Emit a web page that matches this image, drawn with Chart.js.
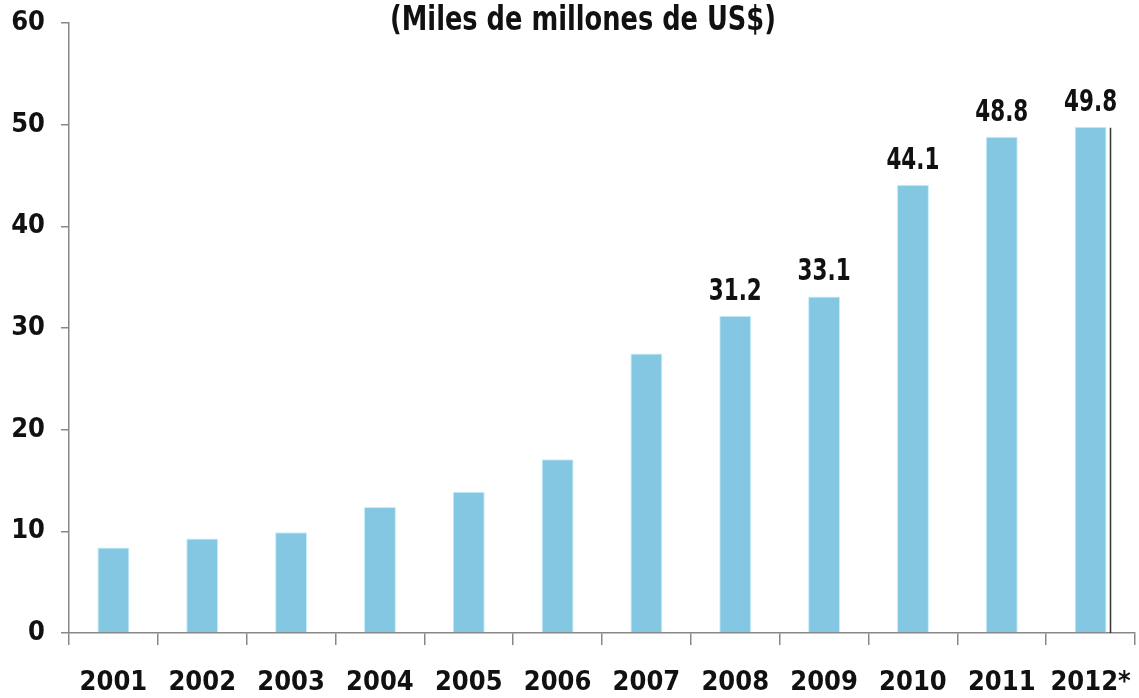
<!DOCTYPE html>
<html>
<head>
<meta charset="utf-8">
<script src="https://cdn.jsdelivr.net/npm/chart.js@4/dist/chart.umd.min.js"></script>
<style>
  body { margin: 0; background: #fff; }
  #wrap { width: 1139px; height: 698px; position: relative; }
</style>
</head>
<body>
<div id="wrap"><canvas id="bar_chart"></canvas></div>
<script>
const years = ['2001', '2002', '2003', '2004', '2005', '2006', '2007', '2008', '2009', '2010', '2011', '2012*'];
const values = [8.4, 9.3, 9.9, 12.4, 13.9, 17.1, 27.5, 31.2, 33.1, 44.1, 48.8, 49.8];
// only the last five bars carry a printed value
const shown_labels = ['', '', '', '', '', '', '', '31.2', '33.1', '44.1', '48.8', '49.8'];
const y_ticks = [0, 10, 20, 30, 40, 50, 60];
const title_text = '(Miles de millones de US$)';

const label_font = '"DejaVu Sans Condensed", "DejaVu Sans", sans-serif';

const value_labels = {
    id: 'value_labels',
    afterDatasetsDraw(chart) {
        const ctx = chart.ctx;
        const meta = chart.getDatasetMeta(0);
        ctx.save();
        ctx.font = 'bold 31px ' + label_font;
        ctx.fillStyle = '#111';
        ctx.textAlign = 'center';
        ctx.textBaseline = 'alphabetic';
        meta.data.forEach((bar, i) => {
            if (shown_labels[i]) ctx.fillText(shown_labels[i], bar.x, bar.y - 16, 53);
        });
        // thin dark rule next to the last bar, as in the original
        const last = meta.data[meta.data.length - 1];
        const rx = Math.round(last.x + last.width / 2) + 3.5;
        ctx.strokeStyle = '#333';
        ctx.lineWidth = 1.5;
        ctx.beginPath();
        ctx.moveTo(rx, last.y + 1);
        ctx.lineTo(rx, chart.scales.y.getPixelForValue(0));
        ctx.stroke();
        // title
        ctx.font = 'bold 33px "DejaVu Sans Condensed", "DejaVu Sans", sans-serif';
        ctx.fillText(title_text, 583, 30, 386);
        ctx.restore();
    }
};

const data = {
    labels: years,
    datasets: [{
        data: values,
        backgroundColor: '#84c7e2',
        borderColor: '#c4f0fb',
        borderWidth: 1,
        categoryPercentage: 1.0,
        barPercentage: 0.36
    }]
};

const config = {
    type: 'bar',
    data: data,
    options: {
        responsive: false,
        animation: false,
        layout: { padding: { top: 23, right: 4, left: 0, bottom: 0 } },
        scales: {
            x: {
                offset: true,
                grid: {
                    offset: true,
                    drawOnChartArea: false,
                    color: '#888',
                    lineWidth: 1.5,
                    tickLength: 12
                },
                border: { color: '#888', width: 1.5 },
                ticks: {
                    color: '#111',
                    padding: 22,
                    maxRotation: 0,
                    font: { family: label_font, size: 27, weight: 'bold' }
                },
                afterFit: (scale) => {
                    scale.height = 65;
                    scale.paddingLeft = 0;
                    scale.paddingRight = 0;
                }
            },
            y: {
                min: 0,
                max: 60,
                afterBuildTicks: (scale) => { scale.ticks = y_ticks.map((v) => ({ value: v })); },
                grid: {
                    drawOnChartArea: false,
                    color: '#888',
                    lineWidth: 1.5,
                    tickLength: 8
                },
                border: { color: '#888', width: 1.5 },
                ticks: {
                    color: '#111',
                    padding: 16,
                    font: { family: label_font, size: 27, weight: 'bold' }
                },
                afterFit: (scale) => {
                    scale.width = 69;
                    scale.paddingTop = 0;
                    scale.paddingBottom = 0;
                }
            }
        },
        plugins: {
            legend: { display: false },
            tooltip: { enabled: false },
            title: { display: false }
        }
    },
    plugins: [value_labels]
};

var ctx_bar = document.getElementById('bar_chart');
ctx_bar.width = 1139;
ctx_bar.height = 698;
var bar_chart = new Chart(ctx_bar, config);
</script>
</body>
</html>
